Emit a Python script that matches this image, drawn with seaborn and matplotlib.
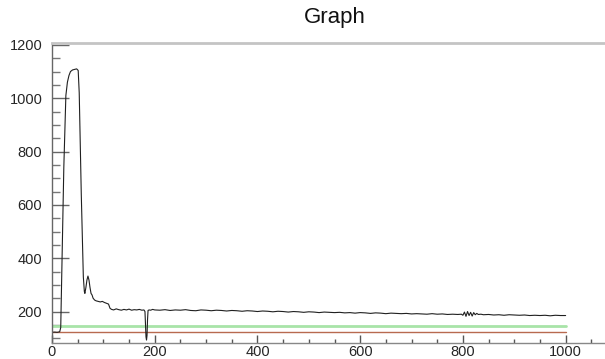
import numpy as np
import pandas as pd
import matplotlib
matplotlib.use("Agg")
import matplotlib.pyplot as plt
from matplotlib.ticker import MultipleLocator
import seaborn as sns

# ---- data ----
x_start = [0, 5, 10, 15, 17, 19, 21, 23, 25, 27,
           30, 33, 36, 40, 44, 48, 51, 53, 55, 57,
           59, 61, 63, 64, 66, 68, 70, 72, 74, 76,
           78, 80, 83, 86, 90, 94, 98, 102, 106, 110,
           113, 116, 120, 125, 130, 135, 140, 145, 150, 155,
           160, 165, 170, 175, 179, 181, 182, 183, 184, 185,
           186, 187, 189, 192, 196, 200]
y_start = [122, 123, 122, 124, 140, 330, 540, 740, 880, 1010,
           1060, 1085, 1100, 1106, 1108, 1110, 1104, 1020, 820, 640,
           480, 330, 275, 268, 290, 318, 333, 318, 290, 268,
           262, 250, 243, 240, 238, 236, 238, 234, 231, 228,
           212, 208, 206, 210, 207, 205, 208, 206, 209, 205,
           207, 206, 208, 205, 206, 200, 150, 105, 93, 110,
           170, 204, 206, 205, 208, 206]

x_mid = list(range(210, 800, 10))
y_mid = [205, 207, 204, 206, 205, 207, 204, 203, 206, 205,
         203, 205, 204, 202, 204, 203, 201, 203, 202, 200,
         202, 201, 199, 201, 200, 198, 200, 199, 197, 199,
         198, 196, 198, 197, 196, 197, 195, 196, 194, 196,
         195, 193, 195, 194, 192, 194, 193, 192, 193, 191,
         192, 191, 190, 192, 190, 191, 189, 190, 189]

x_noise = [797, 800, 803, 806, 809, 812, 815, 818, 821, 824, 827, 830, 835]
y_noise = [190, 186, 198, 182, 200, 185, 197, 183, 196, 188, 193, 189, 190]

x_end = [840, 850, 860, 870, 880, 890, 900, 910, 920, 930,
         940, 950, 960, 970, 980, 990, 1000]
y_end = [188, 189, 187, 188, 186, 188, 187, 186, 187, 185,
         186, 185, 186, 184, 186, 185, 185]

green_level = 144
red_level = 122
line_x = [0, 1000]

title = "Graph"

# ---- build frames ----
curve = pd.DataFrame({"x": x_start + x_mid + x_noise + x_end,
                      "y": y_start + y_mid + y_noise + y_end})
green = pd.DataFrame({"x": line_x, "y": [green_level] * 2})
red = pd.DataFrame({"x": line_x, "y": [red_level] * 2})

sns.set_style("white")
plt.rcParams["font.family"] = ["Liberation Sans", "DejaVu Sans"]

fig = plt.figure(figsize=(6.05, 3.59), dpi=100)
ax = fig.add_axes([52 / 605, 16 / 359, 565 / 605, 300 / 359])

sns.lineplot(data=green, x="x", y="y", ax=ax, color="#a8e4a8", lw=2.0)
sns.lineplot(data=red, x="x", y="y", ax=ax, color="#b86a50", lw=1.0)
sns.lineplot(data=curve, x="x", y="y", ax=ax, color="#202020", lw=0.8,
             sort=False, estimator=None)

ax.set_xlim(0, 1100)
ax.set_ylim(82, 1207)
ax.set_xlabel("")
ax.set_ylabel("")

ax.xaxis.set_minor_locator(MultipleLocator(50))
ax.yaxis.set_minor_locator(MultipleLocator(50))
ax.set_xticks([0, 200, 400, 600, 800, 1000])
ax.set_yticks([200, 400, 600, 800, 1000, 1200])

ax.tick_params(axis="x", which="major", direction="in", length=5.8, width=1,
               color="#555555", labelsize=10.5, pad=1.5, bottom=True, top=False)
ax.tick_params(axis="x", which="minor", direction="in", length=2.9, width=1,
               color="#555555", bottom=True, top=False)
ax.tick_params(axis="y", which="major", direction="in", length=12.2, width=1,
               color="#666666", labelsize=10.5, pad=7, left=True, right=False)
ax.tick_params(axis="y", which="minor", direction="in", length=5.8, width=1,
               color="#777777", left=True, right=False)

ax.spines["left"].set_visible(True)
ax.spines["bottom"].set_visible(True)
ax.spines["top"].set_visible(True)
ax.spines["right"].set_visible(False)
ax.spines["left"].set_color("#666666")
ax.spines["left"].set_linewidth(1.0)
ax.spines["bottom"].set_color("#888888")
ax.spines["bottom"].set_linewidth(1.0)
ax.spines["top"].set_color("#c4c4c4")
ax.spines["top"].set_linewidth(2.0)

fig.text(335 / 605, 1 - 18 / 359, title, ha="center", va="center",
         fontsize=16, color="#111111")

fig.savefig("out.png", dpi=100)
